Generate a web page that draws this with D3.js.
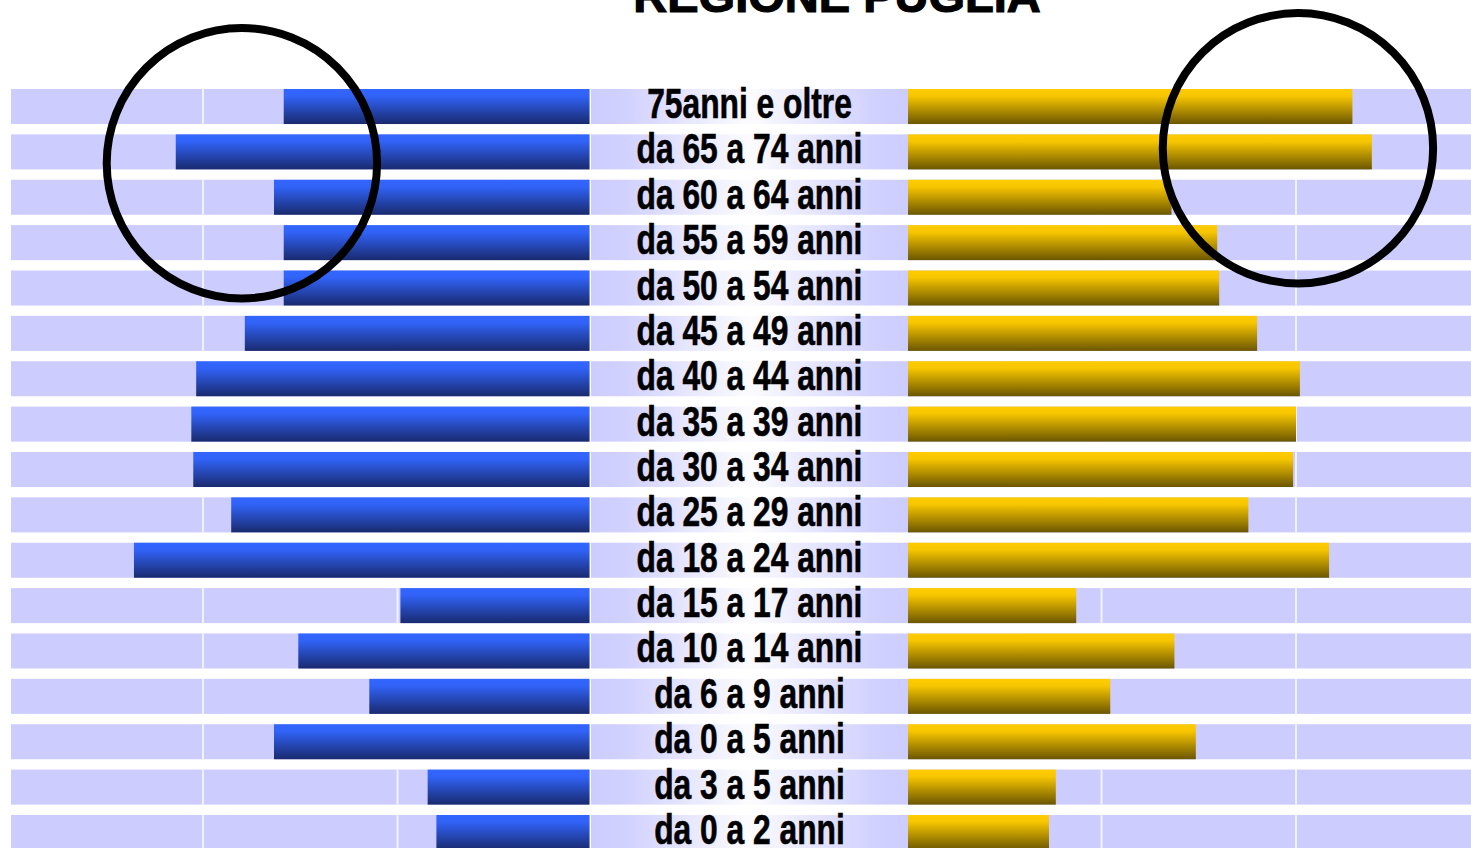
<!DOCTYPE html>
<meta charset="utf-8">
<title>Regione Puglia</title>
<style>
  body { margin: 0; background: #fff; }
  svg { display: block; }
  .label { font-family: "Liberation Sans Narrow", "Liberation Sans", Arial, sans-serif; font-weight: bold; fill: #000; stroke: #000; stroke-width: 0.6px; }
  .title { font-family: "Liberation Sans", Arial, sans-serif; font-weight: bold; fill: #000; stroke: #000; stroke-width: 1.2px; }
</style>
<body>
<script src="https://cdn.jsdelivr.net/npm/d3@7"></script>
<script>
  // age groups, top to bottom
  var ageGroups = [
    "75anni e oltre", "da 65 a 74 anni", "da 60 a 64 anni", "da 55 a 59 anni",
    "da 50 a 54 anni", "da 45 a 49 anni", "da 40 a 44 anni", "da 35 a 39 anni",
    "da 30 a 34 anni", "da 25 a 29 anni", "da 18 a 24 anni", "da 15 a 17 anni",
    "da 10 a 14 anni", "da 6 a 9 anni", "da 0 a 5 anni", "da 3 a 5 anni", "da 0 a 2 anni"
  ];

  // left (blue) series
  var leftValues = [3.17, 4.28, 3.27, 3.17, 3.17, 3.57, 4.07, 4.12, 4.10, 3.71,
                    4.71, 1.97, 3.02, 2.29, 3.27, 1.69, 1.60];

  // right (gold) series
  var rightValues = [4.58, 4.78, 2.72, 3.19, 3.21, 3.60, 4.04, 4.00, 3.97, 3.51,
                     4.34, 1.74, 2.75, 2.09, 2.97, 1.53, 1.46];

  var gridTicks = [2, 4];
  var title = "REGIONE PUGLIA";

  // highlight circles: value on the axis, row position (fractional index), radius in axis units
  var circles = [
    {side: "left",  value: 3.60, row: 1.25, r: 1.39},
    {side: "right", value: 4.02, row: 0.92, r: 1.39}
  ];

  var width = 1471, height = 848;
  var plotLeft = 11;

  var svg = d3.select("body").append("svg")
      .attr("width", width)
      .attr("height", height);

  var defs = svg.append("defs");

  var blueGrad = defs.append("linearGradient").attr("id", "blueGrad")
      .attr("x1", 0).attr("y1", 0).attr("x2", 0).attr("y2", 1);
  blueGrad.append("stop").attr("offset", "0%").attr("stop-color", "#3366ff");
  blueGrad.append("stop").attr("offset", "20%").attr("stop-color", "#3163f8");
  blueGrad.append("stop").attr("offset", "100%").attr("stop-color", "#192a6e");

  var goldGrad = defs.append("linearGradient").attr("id", "goldGrad")
      .attr("x1", 0).attr("y1", 0).attr("x2", 0).attr("y2", 1);
  goldGrad.append("stop").attr("offset", "0%").attr("stop-color", "#ffcc00");
  goldGrad.append("stop").attr("offset", "20%").attr("stop-color", "#f7c600");
  goldGrad.append("stop").attr("offset", "100%").attr("stop-color", "#6b5600");

  var midGrad = defs.append("linearGradient").attr("id", "midGrad")
      .attr("x1", 0).attr("y1", 0).attr("x2", 1).attr("y2", 0);
  midGrad.append("stop").attr("offset", "0%").attr("stop-color", "#ccccff");
  midGrad.append("stop").attr("offset", "12%").attr("stop-color", "#d2d2ff");
  midGrad.append("stop").attr("offset", "50%").attr("stop-color", "#fcfcff");
  midGrad.append("stop").attr("offset", "88%").attr("stop-color", "#d2d2ff");
  midGrad.append("stop").attr("offset", "100%").attr("stop-color", "#ccccff");

  // scales
  var y = d3.scaleBand()
      .domain(ageGroups)
      .range([89, 850])
      .paddingInner(0.228)
      .paddingOuter(0);

  var xL = d3.scaleLinear().domain([0, 6]).range([592, 592 - 3 * 194.5]);
  var xR = d3.scaleLinear().domain([0, 6]).range([907, 907 + 3 * 194.5]);

  var leftEnd = xL(0) - 2.5,   // blue bars stop just before the label strip
      midStart = xL(0) - 1,
      midEnd = xR(0) + 1,
      rightStart = xR(0) + 1;

  var rows = ageGroups.map(function(d, i) {
    return {name: d, left: leftValues[i], right: rightValues[i]};
  });

  // background bands
  var bg = svg.append("g");
  bg.selectAll(".bgL").data(rows).enter().append("rect")
      .attr("x", plotLeft)
      .attr("y", function(d) { return y(d.name); })
      .attr("width", leftEnd - plotLeft)
      .attr("height", y.bandwidth())
      .attr("fill", "#ccccff");
  bg.selectAll(".bgR").data(rows).enter().append("rect")
      .attr("x", rightStart)
      .attr("y", function(d) { return y(d.name); })
      .attr("width", width - rightStart)
      .attr("height", y.bandwidth())
      .attr("fill", "#ccccff");

  // grid lines (only inside bands)
  var grid = svg.append("g");
  rows.forEach(function(r) {
    gridTicks.forEach(function(t) {
      [xL(t), xR(t)].forEach(function(gx) {
        grid.append("line")
            .attr("x1", gx).attr("x2", gx)
            .attr("y1", y(r.name)).attr("y2", y(r.name) + y.bandwidth())
            .attr("stroke", "#f2f2ff")
            .attr("stroke-width", 2);
      });
    });
  });

  // bars
  svg.append("g").selectAll("rect").data(rows).enter().append("rect")
      .attr("x", function(d) { return xL(d.left); })
      .attr("y", function(d) { return y(d.name); })
      .attr("width", function(d) { return leftEnd - xL(d.left); })
      .attr("height", y.bandwidth())
      .attr("fill", "url(#blueGrad)");

  svg.append("g").selectAll("rect").data(rows).enter().append("rect")
      .attr("x", rightStart)
      .attr("y", function(d) { return y(d.name); })
      .attr("width", function(d) { return xR(d.right) - rightStart; })
      .attr("height", y.bandwidth())
      .attr("fill", "url(#goldGrad)");

  // label strip
  svg.append("g").selectAll("rect").data(rows).enter().append("rect")
      .attr("x", midStart)
      .attr("y", function(d) { return y(d.name); })
      .attr("width", midEnd - midStart)
      .attr("height", y.bandwidth())
      .attr("fill", "url(#midGrad)");

  var cx = (midStart + midEnd) / 2;
  var labels = svg.append("g").selectAll("text").data(rows).enter().append("text")
      .attr("class", "label")
      .attr("text-anchor", "middle")
      .style("font-size", "42px")
      .text(function(d) { return d.name; });

  // condense the labels so "da 65 a 74 anni" is ~226px wide
  var refW = labels.filter(function(d) { return d.name === "da 65 a 74 anni"; }).node().getComputedTextLength();
  var k = 226 / refW;
  labels.attr("transform", function(d) {
    return "translate(" + cx + "," + (y(d.name) + y.bandwidth() / 2 + 11.5) + ") scale(" + k + ",1)";
  });

  // highlight circles
  function rowY(idx) {
    return y.range()[0] + idx * y.step() + y.bandwidth() / 2;
  }
  svg.append("g").selectAll("circle").data(circles).enter().append("circle")
      .attr("cx", function(d) { return d.side === "left" ? xL(d.value) : xR(d.value); })
      .attr("cy", function(d) { return rowY(d.row); })
      .attr("r", function(d) { return Math.abs(xR(d.r) - xR(0)); })
      .attr("fill", "none")
      .attr("stroke", "#000")
      .attr("stroke-width", 8);

  // title, cut off at the top
  svg.append("text")
      .attr("class", "title")
      .attr("x", 837)
      .attr("y", 12)
      .attr("text-anchor", "middle")
      .style("font-size", "47px")
      .text(title);
</script>
</body>
